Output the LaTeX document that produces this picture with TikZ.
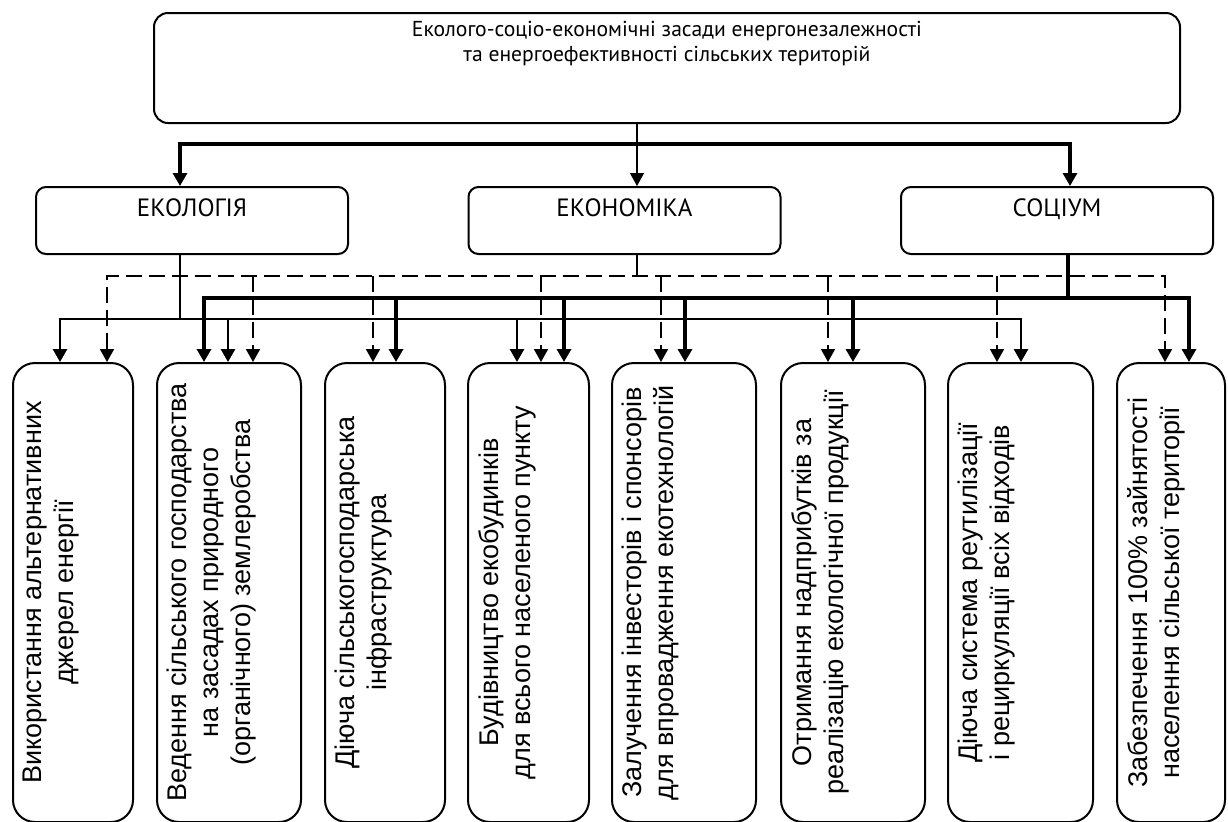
\documentclass[tikz,border=0pt]{standalone}
\usepackage{fontspec}
\setmainfont{Liberation Sans}
\newfontfamily\ptsans{PT Sans}
\usetikzlibrary{positioning,arrows.meta,calc}

\begin{document}
\begin{tikzpicture}[x=0.5pt,y=-0.5pt,
    tip/.style={-{Triangle[length=6.5pt,width=7pt]}},
    tips/.style={{Triangle[length=6.5pt,width=7pt]}-{Triangle[length=6.5pt,width=7pt]}},
    frame/.style={draw,line width=1pt,inner sep=0pt},
    head/.style={frame,rounded corners=7pt,minimum width=513pt,minimum height=55pt},
    cat/.style={frame,rounded corners=5pt,minimum width=156pt,minimum height=33.5pt},
    item/.style={frame,rounded corners=11pt,minimum height=229.5pt},
    headtxt/.style={font=\ptsans\fontsize{10.8}{12.5}\selectfont,align=center,inner sep=0pt,anchor=north},
    cattxt/.style={font=\ptsans\fontsize{12.5}{14}\selectfont,inner sep=0pt,anchor=north},
    itemtxt/.style={font=\fontsize{13.5}{16}\selectfont,align=center,inner sep=0pt,rotate=90,anchor=north},
    ecoline/.style={line width=1.35pt},
    econline/.style={line width=0.85pt,dash pattern=on 8pt off 3.5pt},
    socline/.style={line width=2pt}]
    \path[use as bounding box,fill=white] (0,0) rectangle (1228,821);

    \node[head] (top) at (667,68) {};
    \node[headtxt] (toptxt) at ([yshift=-4.5pt]top.north) {Еколого-соціо-економічні засади енергонезалежності\\та енергоефективності сільських територій};

    \node[cat] (ekol) at (192,220.5) {};
    \node[cat] (econ) at (624.5,220.5) {};
    \node[cat] (soc) at (1057,220.5) {};
    \node[cattxt] (ekoltxt) at ([yshift=-6pt]ekol.north) {ЕКОЛОГІЯ};
    \node[cattxt] (econtxt) at ([yshift=-6pt]econ.north) {ЕКОНОМІКА};
    \node[cattxt] (soctxt) at ([yshift=-6pt]soc.north) {СОЦІУМ};

    \node[item,minimum width=60pt] (b1) at (73,592.5) {};
    \node[item,minimum width=72pt] (b2) at (229,592.5) {};
    \node[item,minimum width=60pt] (b3) at (385,592.5) {};
    \node[item,minimum width=60.5pt] (b4) at (528.5,592.5) {};
    \node[item,minimum width=72pt] (b5) at (684,592.5) {};
    \node[item,minimum width=72pt] (b6) at (853,592.5) {};
    \node[item,minimum width=72.5pt] (b7) at (1020.5,592.5) {};
    \node[item,minimum width=54pt] (b8) at (1171,592.5) {};

    \node[itemtxt] (b1txt) at ([xshift=5.5pt]b1.west) {Використання альтернативних\\джерел енергії};
    \node[itemtxt] (b2txt) at ([xshift=5.5pt]b2.west) {Ведення сільського господарства\\на засадах природного\\(органічного) землеробства};
    \node[itemtxt] (b3txt) at ([xshift=5.5pt]b3.west) {Діюча сільськогосподарська\\інфраструктура};
    \node[itemtxt] (b4txt) at ([xshift=5.5pt]b4.west) {Будівництво екобудинків\\для всього населеного пункту};
    \node[itemtxt] (b5txt) at ([xshift=5.5pt]b5.west) {Залучення інвесторів і спонсорів\\для впровадження екотехнологій};
    \node[itemtxt] (b6txt) at ([xshift=5.5pt]b6.west) {Отримання надприбутків за\\реалізацію екологічної продукції};
    \node[itemtxt] (b7txt) at ([xshift=5.5pt]b7.west) {Діюча система реутилізації\\і рециркуляції всіх відходів};
    \node[itemtxt] (b8txt) at ([xshift=5.5pt]b8.west) {Забезпечення 100\% зайнятості\\населення сільської території};

    \coordinate (tL) at (180,144);
    \coordinate (tM) at (637,144);
    \coordinate (tR) at (1070,144);
    \draw[line width=1.6pt,tips] (tL |- ekol.north) |- (tR) -- (tR |- soc.north);
    \draw[line width=0.6pt,tip] (top.south -| tM) -- (econ.north -| tM);

    \coordinate (ek) at (180,319);
    \coordinate (ekL) at (60,319);
    \coordinate (ek2) at (228,319);
    \coordinate (ek4) at (517,319);
    \coordinate (ekR) at (1021,319);
    \draw[line width=0.7pt] (ekol.south -| ek) -- (ek);
    \draw[ecoline,tips] (ekL |- b1.north) |- (ekR) -- (ekR |- b7.north);
    \draw[ecoline,tip] (ek2) -- (ek2 |- b2.north);
    \draw[ecoline,tip] (ek4) -- (ek4 |- b4.north);

    \coordinate (ec) at (637,276);
    \coordinate (ecL) at (107,276);
    \coordinate (ec2) at (253,276);
    \coordinate (ec3) at (373,276);
    \coordinate (ec4) at (541,276);
    \coordinate (ec5) at (661,276);
    \coordinate (ec6) at (828,276);
    \coordinate (ec7) at (997,276);
    \coordinate (ecR) at (1165,276);
    \draw[line width=0.6pt] (econ.south -| ec) -- (ec);
    \draw[econline,tips] (ecL |- b1.north) |- (ecR) -- (ecR |- b8.north);
    \draw[econline,tip] (ec2) -- (ec2 |- b2.north);
    \draw[econline,tip] (ec3) -- (ec3 |- b3.north);
    \draw[econline,tip] (ec4) -- (ec4 |- b4.north);
    \draw[econline,tip] (ec5) -- (ec5 |- b5.north);
    \draw[econline,tip] (ec6) -- (ec6 |- b6.north);
    \draw[econline,tip] (ec7) -- (ec7 |- b7.north);

    \coordinate (so) at (1068,298);
    \coordinate (soL) at (204,298);
    \coordinate (so3) at (396,298);
    \coordinate (so4) at (564,298);
    \coordinate (so5) at (685,298);
    \coordinate (so6) at (853,298);
    \coordinate (soR) at (1189,298);
    \draw[socline] (soc.south -| so) -- (so);
    \draw[socline,tips] (soL |- b2.north) |- (soR) -- (soR |- b8.north);
    \draw[socline,tip] (so3) -- (so3 |- b3.north);
    \draw[socline,tip] (so4) -- (so4 |- b4.north);
    \draw[socline,tip] (so5) -- (so5 |- b5.north);
    \draw[socline,tip] (so6) -- (so6 |- b6.north);
\end{tikzpicture}
\end{document}
